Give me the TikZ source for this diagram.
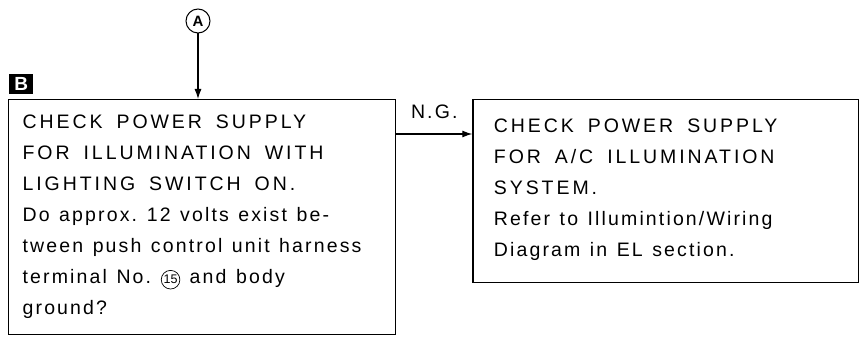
\documentclass[tikz,border=0pt]{standalone}
\usepackage{fontspec}
\setmainfont{Liberation Sans}
\newfontfamily\capsface[LetterSpace=15]{Liberation Sans}
\newfontfamily\bodyface[LetterSpace=11]{Liberation Sans}
\usetikzlibrary{arrows.meta, positioning}

% wide word gaps for the spaced-out capitals and body text
\newcommand{\capstext}{\capsface\spaceskip=14pt plus 2pt\relax}
\newcommand{\bodytext}{\bodyface\spaceskip=9.5pt plus 2pt\relax}

% small circled terminal number inside running text
\newcommand{\circnum}[1]{\tikz[baseline=(n.base)]\node[circle, draw, line width=0.7pt, inner sep=0.8pt, minimum width=0pt, minimum height=0pt, text width={}, align=center, anchor=center, font=\fontsize{12.5}{12.5}\selectfont\normalfont] (n) {#1};}

\begin{document}
\begin{tikzpicture}[
    x=1pt, y=1pt,
    checkbox/.style={rectangle, draw, line width=1.3pt, anchor=north west, align=left, inner xsep=14pt, text width=359pt, minimum width=387pt, minimum height=235pt, font=\fontsize{19.5}{31}\selectfont},
    refbox/.style={rectangle, draw, line width=1.3pt, align=left, inner xsep=21pt, text width=344pt, minimum width=386pt, minimum height=183pt, font=\fontsize{19.5}{31}\selectfont},
    connector/.style={circle, draw, line width=1pt, minimum size=24pt, inner sep=0pt, font=\fontsize{15}{15}\selectfont\bfseries},
    tag/.style={rectangle, fill=black, text=white, minimum width=24pt, minimum height=20pt, inner sep=0pt, font=\fontsize{19}{19}\selectfont\bfseries},
    arrow/.style={-{Latex[length=10pt, width=7pt]}, line width=1.1pt}
]
\useasboundingbox (0,0) rectangle (859,343);

% Check step
\node[checkbox] (check) at (8,244) {\capstext CHECK POWER SUPPLY\\
FOR ILLUMINATION WITH\\
LIGHTING SWITCH ON.\\
\bodytext Do approx. 12 volts exist be-\\
tween push control unit harness\\
terminal No. \circnum{15} and body\\
ground?};

% Step letter and entry connector
\node[tag, above right=5pt and 1pt of check.north west] (stepB) {B};
\node[connector] (entryA) at (198,322) {A};

% Next step when N.G.
\node[refbox, right=76pt of check.north east, anchor=north west] (illum) {\capstext CHECK POWER SUPPLY\\
FOR A/C ILLUMINATION\\
SYSTEM.\\
\bodytext Refer to Illumintion/Wiring\\
Diagram in EL section.\rule[-6pt]{0pt}{6pt}};

% Arrows
\draw[arrow] (entryA) -- (entryA |- check.north);
\draw[arrow] ([yshift=-35pt]check.north east) -- node[above=11pt, font=\fontsize{19.5}{19.5}\selectfont\bodyface] {N.G.} ([yshift=-35pt]illum.north west);

\end{tikzpicture}
\end{document}
